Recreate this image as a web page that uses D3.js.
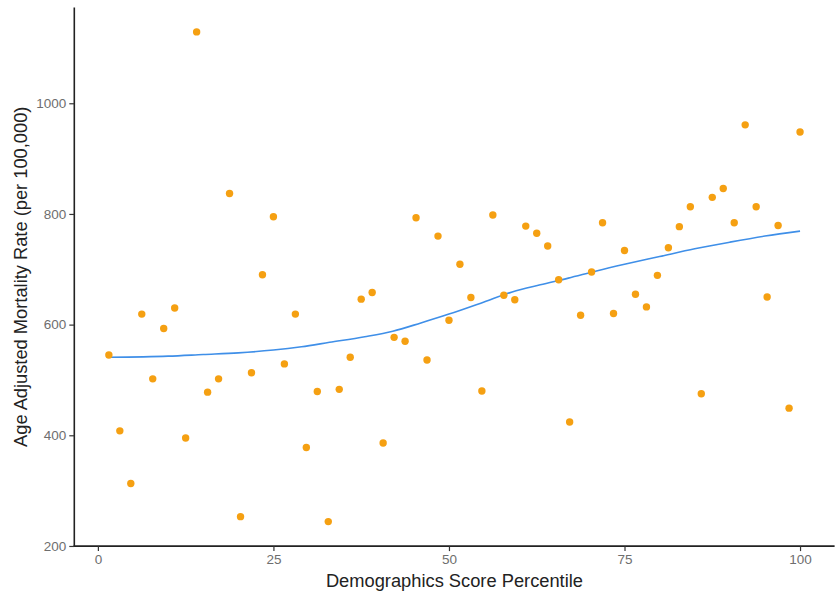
<!DOCTYPE html>
<html>
<head>
<meta charset="utf-8">
<script src="https://cdn.jsdelivr.net/npm/d3@7"></script>
<style>
  html, body { margin: 0; padding: 0; background: #ffffff; }
  svg { display: block; }
</style>
</head>
<body>
<svg id="chart" width="835" height="599"></svg>
<script>
// ---- data ----
const percentile = d3.range(1, 65).map(i => i * 100 / 64); // 64 evenly ranked counties
const mortality = [
  545, 408, 313, 619, 502, 593, 630, 395, 1129, 478,
  502, 837, 253, 513, 690, 795, 529, 619, 378, 479,
  244, 483, 541, 646, 658, 386, 577, 570, 793, 536,
  760, 608, 709, 649, 480, 798, 653, 645, 778, 765,
  742, 681, 424, 617, 695, 784, 620, 734, 655, 632,
  689, 739, 777, 813, 475, 830, 846, 784, 961, 813,
  650, 779, 449, 948
];
// loess smooth curve
const smoothX = [1.5625, 10, 15, 20, 25, 29, 33, 38, 42, 46, 50, 55, 59, 63, 67, 71, 75, 80, 85, 90, 95, 100];
const smoothY = [541, 543, 546, 549, 554, 560, 568, 578, 588, 603, 619, 641, 659, 672, 684, 697, 709, 723, 737, 749, 760, 769];
const xTicks = [0, 25, 50, 75, 100];
const yTicks = [200, 400, 600, 800, 1000];
const xTitle = "Demographics Score Percentile";
const yTitle = "Age Adjusted Mortality Rate (per 100,000)";

const points = percentile.map((p, i) => ({ x: p, y: mortality[i] }));
const smooth = smoothX.map((sx, i) => ({ x: sx, y: smoothY[i] }));

// ---- scales (ggplot-style 5% expansion) ----
const [xmin, xmax] = d3.extent(percentile);
const [ymin, ymax] = d3.extent(mortality);
const xPad = (xmax - xmin) * 0.05, yPad = (ymax - ymin) * 0.05;
const panel = { left: 74.3, right: 834.6, top: 7.4, bottom: 546.1 };

const x = d3.scaleLinear().domain([xmin - xPad, xmax + xPad]).range([panel.left, panel.right]);
const y = d3.scaleLinear().domain([ymin - yPad, ymax + yPad]).range([panel.bottom, panel.top]);

const svg = d3.select("#chart");
const font = "'Liberation Sans', Arial, sans-serif";

// smooth line
svg.append("path")
  .datum(smooth)
  .attr("fill", "none")
  .attr("stroke", "#3f8fe8")
  .attr("stroke-width", 1.6)
  .attr("d", d3.line().x(d => x(d.x)).y(d => y(d.y)).curve(d3.curveMonotoneX));

// points
svg.append("g").selectAll("circle")
  .data(points)
  .join("circle")
  .attr("cx", d => x(d.x))
  .attr("cy", d => y(d.y))
  .attr("r", 3.7)
  .attr("fill", "#f5a012");

// axes
const xAxis = svg.append("g")
  .attr("transform", `translate(0,${panel.bottom})`)
  .call(d3.axisBottom(x).tickValues(xTicks).tickFormat(d3.format("d")).tickSize(5).tickPadding(3).tickSizeOuter(0));
const yAxis = svg.append("g")
  .attr("transform", `translate(${panel.left},0)`)
  .call(d3.axisLeft(y).tickValues(yTicks).tickFormat(d3.format("d")).tickSize(5).tickPadding(3).tickSizeOuter(0));

[xAxis, yAxis].forEach(g => {
  g.select(".domain").attr("stroke", "#222").attr("stroke-width", 1.6);
  g.selectAll(".tick line").attr("stroke", "#333").attr("stroke-width", 1.2);
  g.selectAll(".tick text")
    .attr("fill", "#6e6e6e")
    .style("font-family", font)
    .style("font-size", "13.5px");
});
xAxis.select(".domain").attr("d", `M${panel.left - 0.8},0H${panel.right}`);
yAxis.select(".domain").attr("d", `M0,${panel.top}V${panel.bottom + 0.8}`);

// titles
svg.append("text")
  .attr("x", (panel.left + panel.right) / 2)
  .attr("y", 587)
  .attr("text-anchor", "middle")
  .attr("fill", "#222")
  .style("font-family", font)
  .style("font-size", "18.3px")
  .text(xTitle);

svg.append("text")
  .attr("transform", `translate(27,${(panel.top + panel.bottom) / 2}) rotate(-90)`)
  .attr("text-anchor", "middle")
  .attr("fill", "#222")
  .style("font-family", font)
  .style("font-size", "18.3px")
  .text(yTitle);
</script>
</body>
</html>
